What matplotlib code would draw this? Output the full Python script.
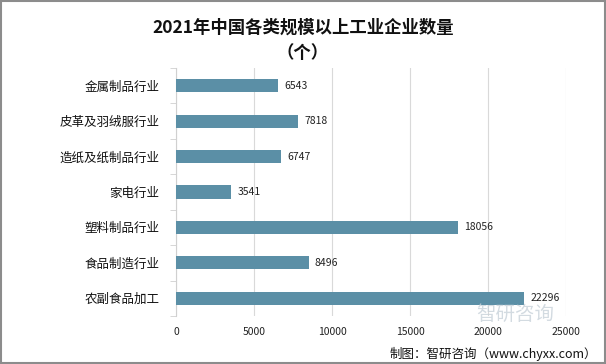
import matplotlib.pyplot as plt
import numpy as np

plt.rcParams['font.family'] = ['Noto Sans CJK SC', 'DejaVu Sans']

categories = ["金属制品行业", "皮革及羽绒服行业", "造纸及纸制品行业", "家电行业",
              "塑料制品行业", "食品制造行业", "农副食品加工"]
values = [6543, 7818, 6747, 3541, 18056, 8496, 22296]
xticks = [0, 5000, 10000, 15000, 20000, 25000]

fig = plt.figure(figsize=(6.06, 3.64), dpi=100)
ax = fig.add_axes([0.2904, 0.132, 0.6436, 0.681])

y = np.arange(len(categories))
ax.barh(y, values, height=0.37, color="#5b8fa6", zorder=3)
for yi, v in zip(y, values):
    ax.text(v + 400, yi, str(v), va="center", ha="left", fontsize=7.5, color="#222222")

ax.set_ylim(len(categories) - 0.5, -0.5)
ax.set_xlim(0, 25000)
ax.set_xticks(xticks)
ax.set_xticklabels([str(t) for t in xticks], fontsize=7.5, color="#222222")
ax.set_yticks(y)
ax.set_yticklabels(categories, fontsize=9, color="#111111")
ax.set_yticks(np.arange(-0.5, len(categories), 1), minor=True)
ax.tick_params(axis="y", which="major", length=0, pad=12)
ax.tick_params(axis="y", which="minor", length=4, color="#d0d0d0", direction="out")
ax.tick_params(axis="x", length=0, pad=8)
ax.grid(axis="x", color="#d9d9d9", linewidth=0.8, zorder=0)
for s in ["top", "right", "bottom"]:
    ax.spines[s].set_visible(False)
ax.spines["left"].set_color("#d0d0d0")

fig.text(0.5, 0.925, "2021年中国各类规模以上工业企业数量", ha="center", va="center",
         fontsize=12.5, fontweight="bold", color="#111111")
fig.text(0.5, 0.855, "（个）", ha="center", va="center",
         fontsize=12.5, fontweight="bold", color="#111111")

# watermark (kept between the last bar label and the tick labels)
fig.text(0.85, 0.135, "智研咨询", ha="center", va="center", fontsize=14,
         color="#c8d2da", alpha=0.8, zorder=0)

fig.text(0.985, 0.028, "制图：智研咨询（www.chyxx.com）", ha="right", va="center",
         fontsize=9, color="#111111")

fig.patches.append(plt.Rectangle((0.001, 0.002), 0.997, 0.995, transform=fig.transFigure,
                                 fill=False, edgecolor="#8c8c8c", linewidth=1.5))

fig.savefig("out.png", dpi=100)
